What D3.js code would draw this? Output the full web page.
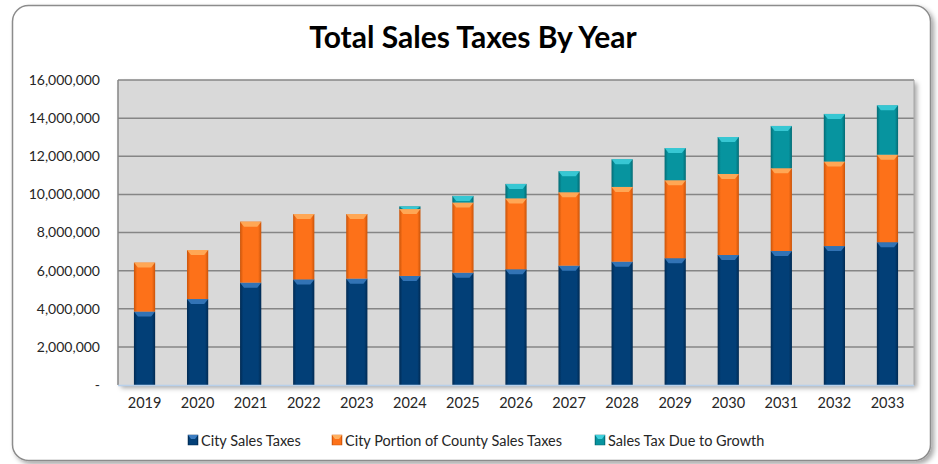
<!DOCTYPE html>
<html>
<head>
<meta charset="utf-8">
<script src="https://d3js.org/d3.v7.min.js"></script>
<style>
body { margin: 0; background: #fff; }
text { font-family: Lato, "Open Sans", sans-serif; }
</style>
</head>
<body>
<script>
// chart data
const years = ["2019","2020","2021","2022","2023","2024","2025","2026","2027","2028","2029","2030","2031","2032","2033"];
const citySales = [3850000,4510000,5370000,5540000,5580000,5720000,5890000,6070000,6260000,6470000,6650000,6820000,7030000,7290000,7490000];
const countyPortion = [2570000,2570000,3200000,3430000,3390000,3510000,3680000,3720000,3850000,3920000,4090000,4250000,4340000,4430000,4590000];
const growth = [0,0,0,0,0,140000,350000,760000,1100000,1450000,1690000,1940000,2220000,2500000,2590000];
const seriesNames = ["City Sales Taxes","City Portion of County Sales Taxes","Sales Tax Due to Growth"];
const yTicks = [0,2000000,4000000,6000000,8000000,10000000,12000000,14000000,16000000];

var width = 938, height = 464;
var svg = d3.select("body").append("svg").attr("width", width).attr("height", height);
var defs = svg.append("defs");

// gradients for the bevelled bars
var cols = [
  {id:"g0", dark:"#012a52", mid:"#023f77", light:"#3b7cc0"},
  {id:"g1", dark:"#c9540a", mid:"#fd7119", light:"#ffb060"},
  {id:"g2", dark:"#046b74", mid:"#07949f", light:"#3fd0dc"}
];
cols.forEach(function(c){
  var g = defs.append("linearGradient").attr("id", c.id).attr("x1","0").attr("x2","1").attr("y1","0").attr("y2","0");
  g.append("stop").attr("offset","0").attr("stop-color", c.dark);
  g.append("stop").attr("offset","0.15").attr("stop-color", c.mid);
  g.append("stop").attr("offset","0.85").attr("stop-color", c.mid);
  g.append("stop").attr("offset","1").attr("stop-color", c.dark);
});
var sh = defs.append("filter").attr("id","shadow").attr("x","-5%").attr("y","-5%").attr("width","115%").attr("height","115%");
sh.append("feDropShadow").attr("dx",3).attr("dy",3).attr("stdDeviation",2.5).attr("flood-color","#000").attr("flood-opacity",0.35);

// outer frame
svg.append("rect").attr("x",12.5).attr("y",5.5).attr("width",918).attr("height",455)
  .attr("rx",16).attr("fill","#fff").attr("stroke","#8c8c8c").attr("stroke-width",1.5)
  .attr("filter","url(#shadow)");

svg.append("text").attr("x",473).attr("y",48).attr("text-anchor","middle")
  .style("font-size","30px").style("font-weight","bold").attr("fill","#000")
  .text("Total Sales Taxes By Year");

var margin = {left:118, top:80, right:914, bottom:385};

var x = d3.scaleBand().domain(years).range([margin.left, margin.right]).paddingInner(0.6).paddingOuter(0.3);
var y = d3.scaleLinear().domain([0,16000000]).range([margin.bottom, margin.top]);

// plot area
svg.append("rect").attr("x",margin.left).attr("y",margin.top)
  .attr("width",margin.right-margin.left).attr("height",margin.bottom-margin.top)
  .attr("fill","#d9d9d9").attr("filter","url(#shadow)");

svg.append("g").selectAll("line").data(yTicks.slice(1)).enter().append("line")
  .attr("x1",margin.left).attr("x2",margin.right)
  .attr("y1",function(d){return y(d);}).attr("y2",function(d){return y(d);})
  .attr("stroke","#868686").attr("stroke-width",1.5);
svg.append("line").attr("x1",margin.left).attr("x2",margin.left).attr("y1",margin.top).attr("y2",margin.bottom)
  .attr("stroke","#868686").attr("stroke-width",1.5);
svg.append("line").attr("x1",margin.right).attr("x2",margin.right).attr("y1",margin.top).attr("y2",margin.bottom)
  .attr("stroke","#a6a6a6").attr("stroke-width",1);

// y axis labels
var yAxis = d3.axisLeft(y).tickValues(yTicks).tickSize(0).tickPadding(18)
  .tickFormat(function(d){return d===0 ? "-" : d3.format(",")(d);});
var ya = svg.append("g").attr("transform","translate("+margin.left+",0)").call(yAxis);
ya.select(".domain").remove();
ya.selectAll("text").style("font-size","14px").attr("fill","#262626");

// stacked bars
var rows = years.map(function(yr,i){return {year:yr, s0:citySales[i], s1:countyPortion[i], s2:growth[i]};});
var stack = d3.stack().keys(["s0","s1","s2"])(rows);

var layers = svg.append("g").selectAll("g").data(stack).enter().append("g");
layers.each(function(layer, li){
  var g = d3.select(this);
  var segs = g.selectAll("g").data(layer.filter(function(d){return d[1]-d[0] > 0;})).enter().append("g");
  segs.append("rect")
    .attr("x",function(d){return x(d.data.year);})
    .attr("y",function(d){return y(d[1]);})
    .attr("width",x.bandwidth())
    .attr("height",function(d){return y(d[0])-y(d[1]);})
    .attr("fill","url(#"+cols[li].id+")");
  // top bevel
  segs.append("path")
    .attr("d",function(d){
      var x0 = x(d.data.year), w = x.bandwidth(), t = y(d[1]);
      var b = Math.min(5, (y(d[0])-y(d[1])));
      return "M"+x0+","+t+"L"+(x0+w)+","+t+"L"+(x0+w-4)+","+(t+b)+"L"+(x0+4)+","+(t+b)+"Z";
    })
    .attr("fill",cols[li].light).attr("opacity",0.85);
});

// x axis
svg.append("line").attr("x1",margin.left).attr("x2",margin.right).attr("y1",margin.bottom+0.5).attr("y2",margin.bottom+0.5)
  .attr("stroke","#b8d0ea").attr("stroke-width",1.5);
var xAxis = d3.axisBottom(x).tickSize(0).tickPadding(13);
var xa = svg.append("g").attr("transform","translate(0,"+margin.bottom+")").call(xAxis);
xa.select(".domain").remove();
xa.selectAll("text").style("font-size","14.5px").attr("fill","#262626");

// legend
var legendX = [188, 332, 595];
var lg = svg.append("g").selectAll("g").data(seriesNames).enter().append("g")
  .attr("transform",function(d,i){return "translate("+legendX[i]+",435)";});
lg.append("rect").attr("width",10).attr("height",10).attr("fill",function(d,i){return "url(#"+cols[i].id+")";})
  .attr("stroke",function(d,i){return cols[i].dark;}).attr("stroke-width",0.5);
lg.append("path").attr("d","M0,0L10,0L7,4L3,4Z").attr("fill",function(d,i){return cols[i].light;});
lg.append("text").attr("x",13).attr("y",10.5).style("font-size","14.5px").attr("fill","#262626").text(function(d){return d;});
</script>
</body>
</html>
